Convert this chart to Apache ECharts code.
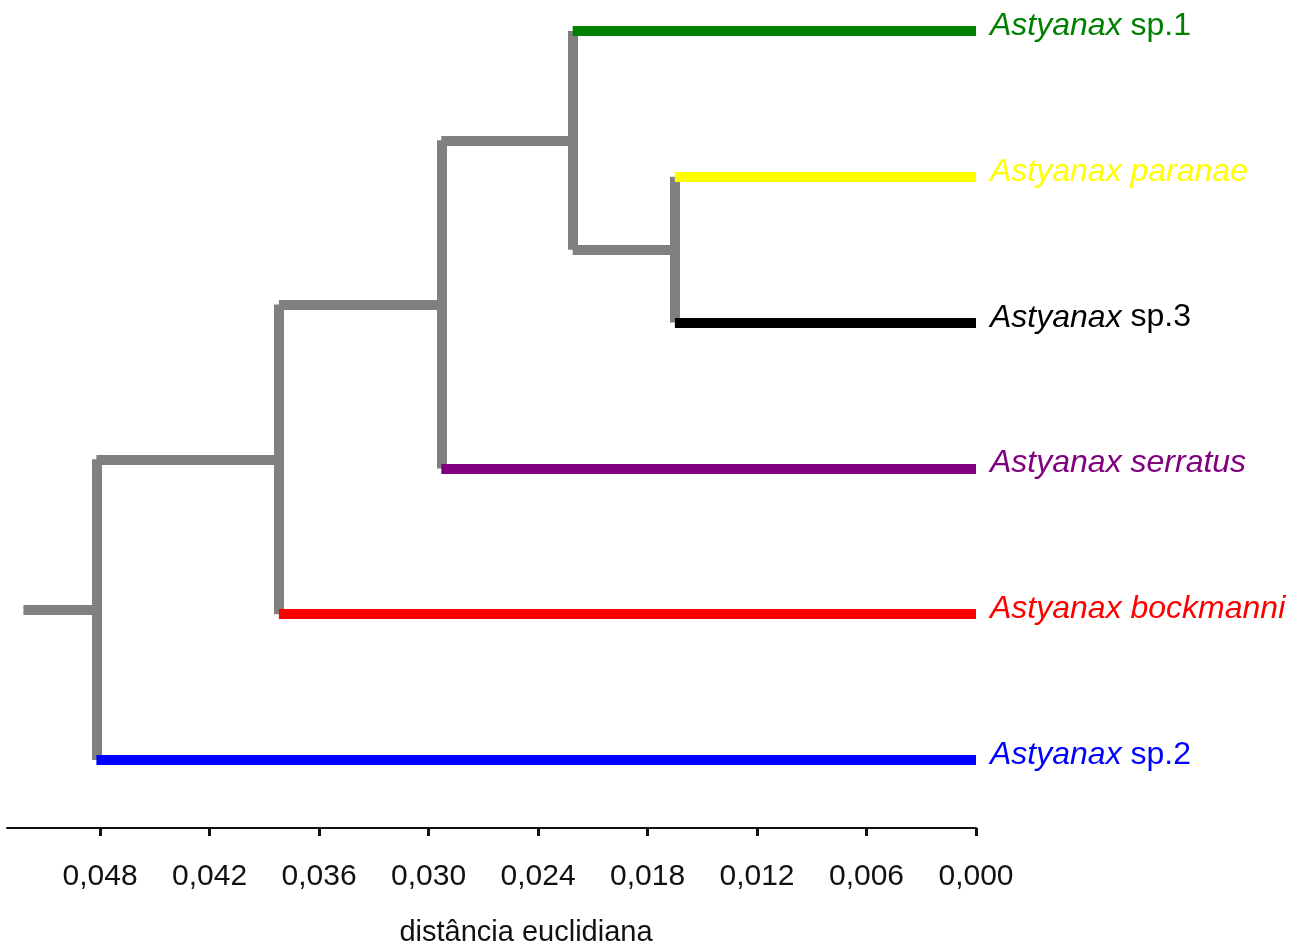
<!DOCTYPE html>
<html>
<head>
<meta charset="utf-8">
<script src="https://cdn.jsdelivr.net/npm/echarts@6/dist/echarts.min.js"></script>
<style>
html,body{margin:0;padding:0;background:#fff;}
#chart{width:1307px;height:944px;}
</style>
</head>
<body>
<div id="chart"></div>
<script>
// Leaves (top to bottom)
const leafGenus = ['Astyanax','Astyanax','Astyanax','Astyanax','Astyanax','Astyanax'];
const leafEpithet = ['sp.1','paranae','sp.3','serratus','bockmanni','sp.2'];
const leafEpithetItalic = [false,true,false,true,true,false];
const leafColors = ['#008000','#FFFF00','#000000','#800080','#FF0000','#0000FF'];
// Merges: children refs ('L'+index for leaves, 'N'+index for previous merges) and heights
const mergeLeft = ['L1','L0','N1','N2','N3'];
const mergeRight = ['L2','N0','L3','L4','L5'];
const mergeHeight = [0.0165,0.0221,0.0293,0.0382,0.0482];
const rootStubEnd = 0.0522;
// Axis ticks
const tickValues = [0,0.006,0.012,0.018,0.024,0.030,0.036,0.042,0.048];
const axisMax = 0.0531;
const axisTitle = 'distância euclidiana';

const GRAY = '#808080';
const FONT = 'Liberation Sans, Arial, sans-serif';
const nodes = [];
function info(ref){
  const i = +ref.slice(1);
  if (ref[0]==='L') return {y:i+1, h:0, color:leafColors[i], leaf:true};
  return nodes[i];
}
const graySegs = [], colorSegs = [];
for (let k=0;k<mergeHeight.length;k++){
  const a = info(mergeLeft[k]), b = info(mergeRight[k]), h = mergeHeight[k];
  graySegs.push({coords:[[h,a.y],[h,b.y]], lineStyle:{color:GRAY}});
  [a,b].forEach(c=>{
    const s = {coords:[[c.h,c.y],[h,c.y]], lineStyle:{color:c.leaf?c.color:GRAY}};
    (c.leaf?colorSegs:graySegs).push(s);
  });
  nodes.push({y:(a.y+b.y)/2, h:h, color:GRAY, leaf:false});
}
const root = nodes[nodes.length-1];
graySegs.push({coords:[[root.h,root.y],[rootStubEnd,root.y]], lineStyle:{color:GRAY}});

const labelData = leafEpithet.map((e,i)=>({
  value:[0,i+1],
  label:{
    formatter: leafEpithetItalic[i] ? '{it|'+leafGenus[i]+' '+e+'}' : '{it|'+leafGenus[i]+'}{n| '+e+'}',
    rich:{
      it:{fontStyle:'italic',fontSize:32,color:leafColors[i],fontFamily:FONT},
      n:{fontSize:32,color:leafColors[i],fontFamily:FONT}
    }
  }
}));

const chart = echarts.init(document.getElementById('chart'));
chart.setOption({
  animation:false,
  backgroundColor:'#fff',
  grid:{left:7,right:331,top:31,bottom:184,containLabel:false},
  xAxis:{
    type:'value', inverse:true, min:0, max:axisMax, offset:68,
    axisLine:{show:true,lineStyle:{color:'#111',width:2}},
    axisTick:{show:true,customValues:tickValues,length:8,lineStyle:{color:'#111',width:3}},
    axisLabel:{customValues:tickValues,margin:34,fontSize:30,color:'#111',fontFamily:FONT,
      formatter:v=>v.toFixed(3).replace('.',',')},
    splitLine:{show:false}
  },
  yAxis:{type:'value',inverse:true,min:1,max:6,show:false},
  graphic:[{type:'text',x:526,y:933,style:{text:axisTitle,fontSize:29,fill:'#111',
    fontFamily:FONT,align:'center',verticalAlign:'middle'}}],
  series:[
    {type:'lines',coordinateSystem:'cartesian2d',clip:false,polyline:false,
     lineStyle:{width:10,opacity:1,cap:'butt'},data:graySegs,silent:true,z:2},
    {type:'lines',coordinateSystem:'cartesian2d',clip:false,polyline:false,
     lineStyle:{width:10,opacity:1,cap:'butt'},data:colorSegs,silent:true,z:3},
    {type:'scatter',symbolSize:0,clip:false,data:labelData,z:4,
     itemStyle:{opacity:1},
     label:{show:true,position:'right',distance:14,offset:[0,-5],opacity:1}}
  ]
});
</script>
</body>
</html>
